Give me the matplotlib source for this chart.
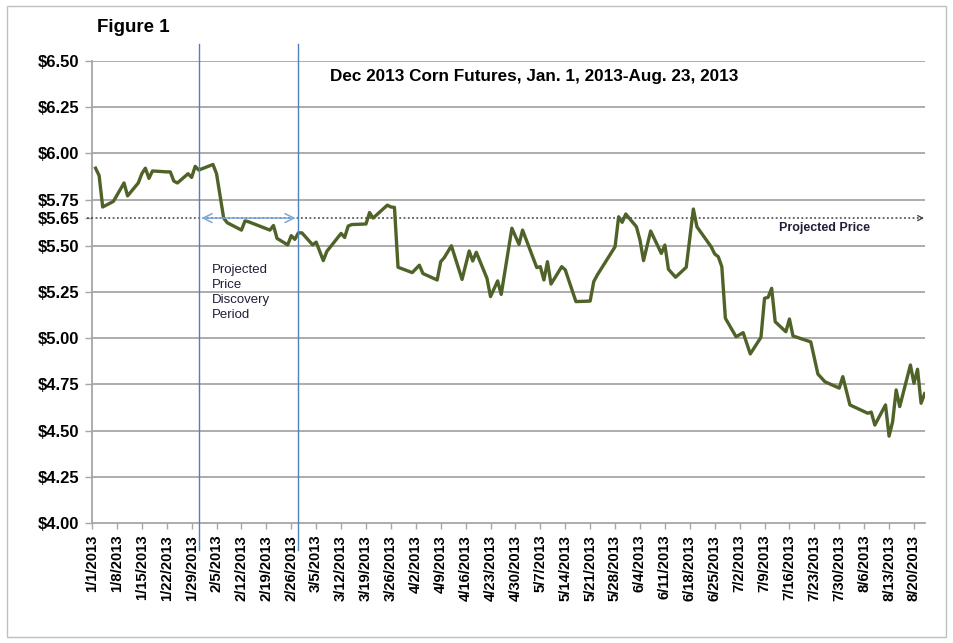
import matplotlib
matplotlib.use("Agg")
import matplotlib.pyplot as plt
import matplotlib.dates as mdates
from matplotlib.patches import Rectangle
import pandas as pd

plt.rcParams['font.family'] = ['Liberation Sans', 'DejaVu Sans']

# ---- data ----
dates = [
    "2013-01-02", "2013-01-03", "2013-01-04", "2013-01-07", "2013-01-10", "2013-01-11",
    "2013-01-14", "2013-01-15", "2013-01-16", "2013-01-17", "2013-01-18", "2013-01-22",
    "2013-01-23", "2013-01-24", "2013-01-25", "2013-01-28", "2013-01-29", "2013-01-30",
    "2013-01-31", "2013-02-04", "2013-02-05", "2013-02-07", "2013-02-08", "2013-02-12",
    "2013-02-13", "2013-02-14", "2013-02-20", "2013-02-21", "2013-02-22", "2013-02-25",
    "2013-02-26", "2013-02-27", "2013-02-28", "2013-03-01", "2013-03-04", "2013-03-05",
    "2013-03-07", "2013-03-08", "2013-03-12", "2013-03-13", "2013-03-14", "2013-03-15",
    "2013-03-19", "2013-03-20", "2013-03-21", "2013-03-25", "2013-03-26", "2013-03-27",
    "2013-03-28", "2013-04-01", "2013-04-03", "2013-04-04", "2013-04-08", "2013-04-09",
    "2013-04-10", "2013-04-12", "2013-04-15", "2013-04-17", "2013-04-18", "2013-04-19",
    "2013-04-22", "2013-04-23", "2013-04-25", "2013-04-26", "2013-04-29", "2013-05-01",
    "2013-05-02", "2013-05-06", "2013-05-07", "2013-05-08", "2013-05-09", "2013-05-10",
    "2013-05-13", "2013-05-14", "2013-05-17", "2013-05-21", "2013-05-22", "2013-05-23",
    "2013-05-28", "2013-05-29", "2013-05-30", "2013-05-31", "2013-06-03", "2013-06-04",
    "2013-06-05", "2013-06-07", "2013-06-10", "2013-06-11", "2013-06-12", "2013-06-14",
    "2013-06-17", "2013-06-19", "2013-06-20", "2013-06-24", "2013-06-25", "2013-06-26",
    "2013-06-27", "2013-06-28", "2013-07-01", "2013-07-03", "2013-07-05", "2013-07-08",
    "2013-07-09", "2013-07-10", "2013-07-11", "2013-07-12", "2013-07-15", "2013-07-16",
    "2013-07-17", "2013-07-22", "2013-07-24", "2013-07-26", "2013-07-30", "2013-07-31",
    "2013-08-02", "2013-08-07", "2013-08-08", "2013-08-09", "2013-08-12", "2013-08-13",
    "2013-08-14", "2013-08-15", "2013-08-16", "2013-08-19", "2013-08-20", "2013-08-21",
    "2013-08-22", "2013-08-23",
]
prices = [
    5.92, 5.88, 5.71, 5.74, 5.84, 5.77,
    5.84, 5.89, 5.92, 5.865, 5.905, 5.90,
    5.90, 5.85, 5.84, 5.89, 5.87, 5.93,
    5.91, 5.94, 5.89, 5.65, 5.625, 5.585,
    5.635, 5.63, 5.585, 5.61, 5.54, 5.505,
    5.555, 5.535, 5.57, 5.57, 5.505, 5.52,
    5.42, 5.47, 5.567, 5.545, 5.607, 5.615,
    5.618, 5.68, 5.65, 5.72, 5.71, 5.708,
    5.384, 5.355, 5.395, 5.35, 5.315, 5.414,
    5.436, 5.50, 5.318, 5.472, 5.418, 5.465,
    5.324, 5.225, 5.31, 5.237, 5.595, 5.508,
    5.585, 5.382, 5.387, 5.315, 5.414, 5.293,
    5.387, 5.37, 5.198, 5.201, 5.306, 5.342,
    5.495, 5.657, 5.627, 5.672, 5.603, 5.531,
    5.42, 5.58, 5.459, 5.504, 5.373, 5.33,
    5.384, 5.699, 5.603, 5.495, 5.456, 5.441,
    5.387, 5.108, 5.008, 5.03, 4.915, 5.005,
    5.216, 5.221, 5.27, 5.089, 5.035, 5.104,
    5.012, 4.98, 4.806, 4.764, 4.73, 4.792,
    4.639, 4.594, 4.60, 4.53, 4.639, 4.47,
    4.548, 4.72, 4.63, 4.855, 4.756, 4.832,
    4.648, 4.70,
]
y_ticks = [4.00, 4.25, 4.50, 4.75, 5.00, 5.25, 5.50, 5.65, 5.75, 6.00, 6.25, 6.50]
grid_levels = [4.25, 4.50, 4.75, 5.00, 5.25, 5.50, 5.75, 6.00, 6.25, 6.50]
projected_price = 5.65
discovery_start = "2013-01-31"
discovery_end = "2013-02-28"
x_start = "2013-01-01"
x_end = "2013-08-23"

title = "Dec 2013 Corn Futures, Jan. 1, 2013-Aug. 23, 2013"

# ---- figure ----
W, H = 954, 643
fig = plt.figure(figsize=(W / 100, H / 100), dpi=100)
fig.patch.set_facecolor("white")

# outer border
fig.patches.append(Rectangle((7 / W, 1 - 637 / H), (946 - 7) / W, (637 - 6) / H,
                             transform=fig.transFigure, fill=False,
                             edgecolor="#BFBFBF", linewidth=1.0))

ax = fig.add_axes([92 / W, 1 - 523 / H, (925 - 92) / W, (523 - 61) / H])

d = pd.to_datetime(dates)
xs = mdates.date2num(d)
x0 = mdates.date2num(pd.Timestamp(x_start))
x1 = mdates.date2num(pd.Timestamp(x_end)) + 0.1

ax.set_xlim(x0, x1)
ax.set_ylim(4.0, 6.5)

for g in grid_levels:
    ax.axhline(g, color="#A6A6A6", linewidth=1.3, zorder=1)

ax.plot(xs, prices, color="#4F6228", linewidth=2.4, zorder=4,
        solid_joinstyle="round")

# ticks
tick_dates = pd.date_range(x_start, "2013-08-20", freq="7D")
ax.set_xticks(mdates.date2num(tick_dates))
ax.set_xticklabels([f"{t.month}/{t.day}/{t.year}" for t in tick_dates],
                   rotation=90, fontsize=10.7, fontweight="bold")
ax.set_yticks(y_ticks)
ax.set_yticklabels([f"${v:.2f}" for v in y_ticks], fontsize=12, fontweight="bold")
ax.tick_params(axis="y", length=5, width=1, color="#A6A6A6", pad=4)
ax.tick_params(axis="x", length=4, width=1, color="#A6A6A6", pad=4.5)

for s in ["top", "right"]:
    ax.spines[s].set_visible(False)
for s in ["left", "bottom"]:
    ax.spines[s].set_color("#A6A6A6")
    ax.spines[s].set_linewidth(1.3)

# projected price dotted line with arrow head
ax.plot([x0 - 1.5, x1 - 1.5], [projected_price, projected_price], color="#404040",
        linestyle=(0, (1.2, 1.6)), linewidth=1.1, zorder=3, clip_on=False)
ax.annotate("", xy=(x1 + 0.5, projected_price), xytext=(x1 - 2.0, projected_price),
            arrowprops=dict(arrowstyle="->", color="#404040", lw=0.9,
                            mutation_scale=9), annotation_clip=False)

# discovery period lines
ds = mdates.date2num(pd.Timestamp(discovery_start))
de = mdates.date2num(pd.Timestamp(discovery_end))
for xv in (ds, de):
    ax.axvline(xv, ymin=-0.058, ymax=1.037, color="#4F81BD", linewidth=1.0,
               zorder=5, clip_on=False)
ax.annotate("", xy=(de, projected_price), xytext=(ds, projected_price),
            arrowprops=dict(arrowstyle="<->", color="#7FA7D9", lw=1.1,
                            mutation_scale=16), zorder=5)

# texts
fig.text(97 / W, 1 - 28 / H, "Figure 1", fontsize=13.5, fontweight="bold",
         ha="left", va="center")
fig.text(330 / W, 1 - 77 / H, title, fontsize=12.3, fontweight="bold",
         ha="left", va="center")
fig.text(779 / W, 1 - 228 / H, "Projected Price", fontsize=9, fontweight="bold",
         color="#1F1F3A", ha="left", va="center")
for i, line in enumerate(["Projected", "Price", "Discovery", "Period"]):
    fig.text(212 / W, 1 - (270 + 15 * i) / H, line, fontsize=9.5,
             color="#1F1F3A", ha="left", va="center")

fig.savefig("out.png", dpi=100)
